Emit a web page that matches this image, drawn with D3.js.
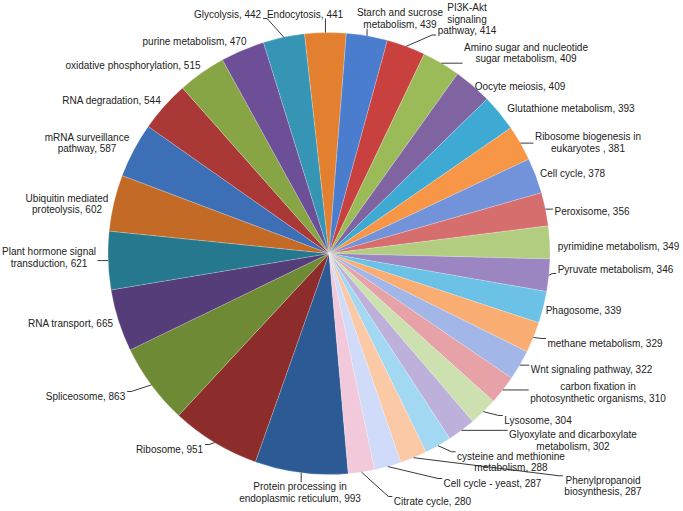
<!DOCTYPE html>
<html><head><meta charset="utf-8">
<script src="https://cdn.jsdelivr.net/npm/d3@7"></script>
<style>
body{margin:0;background:#fff;}
text{font-family:"Liberation Sans",Arial,Helvetica,sans-serif;font-size:10px;fill:#222;}
</style></head><body>
<svg id="chart" width="683" height="511"></svg>
<script>
// ---- data ----
const categories = [
  "Protein processing in endoplasmic reticulum","Ribosome","Spliceosome","RNA transport",
  "Plant hormone signal transduction","Ubiquitin mediated proteolysis","mRNA surveillance pathway",
  "RNA degradation","oxidative phosphorylation","purine metabolism","Glycolysis","Endocytosis",
  "Starch and sucrose metabolism","PI3K-Akt signaling pathway","Amino sugar and nucleotide sugar metabolism",
  "Oocyte meiosis","Glutathione metabolism","Ribosome biogenesis in eukaryotes ","Cell cycle","Peroxisome",
  "pyrimidine metabolism","Pyruvate metabolism","Phagosome","methane metabolism","Wnt signaling pathway",
  "carbon fixation in photosynthetic organisms","Lysosome","Glyoxylate and dicarboxylate metabolism",
  "cysteine and methionine metabolism","Phenylpropanoid biosynthesis","Cell cycle - yeast","Citrate cycle"
];
const values = [993,951,863,665,621,602,587,544,515,470,442,441,439,414,409,409,393,381,378,356,349,346,339,329,322,310,304,302,288,287,287,280];

// ---- style / layout ----
const colors = [
  "#2c5a94","#8c2d2b","#6f8a35","#553d7a","#26788e","#c36a26",
  "#3d6fb6","#a93836","#87a545","#6c4f97","#3694b4","#e3802f",
  "#4a7dce","#c8413f","#9bbb59","#8064a2","#3eaad4","#f79646",
  "#7293d9","#d66e6e","#b2cd80","#9b86c2","#6cc2e6","#f9ad72",
  "#a2b7e8","#e6a2a6","#cce0b0","#bdb1db","#a3d8f2","#fcc9a6",
  "#cfdbf8","#f2c9da"
];
// how each category name is broken into lines
const nameLines = [
  ["Protein processing in","endoplasmic reticulum"],["Ribosome"],["Spliceosome"],["RNA transport"],
  ["Plant hormone signal","transduction"],["Ubiquitin mediated","proteolysis"],["mRNA surveillance","pathway"],
  ["RNA degradation"],["oxidative phosphorylation"],["purine metabolism"],["Glycolysis"],["Endocytosis"],
  ["Starch and sucrose","metabolism"],["PI3K-Akt","signaling","pathway"],["Amino sugar and nucleotide","sugar metabolism"],
  ["Oocyte meiosis"],["Glutathione metabolism"],["Ribosome biogenesis in","eukaryotes "],["Cell cycle"],["Peroxisome"],
  ["pyrimidine metabolism"],["Pyruvate metabolism"],["Phagosome"],["methane metabolism"],["Wnt signaling pathway"],
  ["carbon fixation in","photosynthetic organisms"],["Lysosome"],["Glyoxylate and dicarboxylate","metabolism"],
  ["cysteine and methionine","metabolism"],["Phenylpropanoid","biosynthesis"],["Cell cycle - yeast"],["Citrate cycle"]
];
// label block centre, relative to pie centre (px)
const labelOffsets = [
  [-29,239],[-159.5,195.5],[-243.5,142.5],[-258.5,69.5],[-280,4],[-262,-49.5],[-242,-110.5],
  [-217.5,-153.5],[-196,-188.5],[-134.5,-212.5],[-101.5,-239.5],[-24,-239.5],[71,-235],[138,-234.5],
  [197,-200.5],[191,-167.5],[242,-145.5],[259,-111],[243.5,-80.5],[263,-42.5],[289.5,-7.5],[286.5,15.5],
  [254.5,56.5],[276,89.5],[262.5,115.5],[269,139],[209,166.5],[244,187],[182,208.5],[274,232.5],
  [163.5,229.5],[103.5,247.5]
];

const cx = 329, cy = 253.5, R = 221, lineH = 11.5;
const start = 175 * Math.PI / 180;

const data = categories.map((c, i) => ({name: c, value: values[i], i}));
const pie = d3.pie().sort(null).value(d => d.value).startAngle(start).endAngle(start + 2 * Math.PI);
const arcs = pie(data);
const arc = d3.arc().innerRadius(0).outerRadius(R);
const edge = d3.arc().innerRadius(R).outerRadius(R);

const svg = d3.select("#chart");
const g = svg.append("g").attr("transform", `translate(${cx},${cy})`);

g.selectAll("path.slice").data(arcs).join("path")
  .attr("class", "slice")
  .attr("d", arc)
  .attr("fill", d => colors[d.data.i])
  .attr("stroke", "#ffffff").attr("stroke-opacity", 0.35).attr("stroke-width", 0.6);

const leaders = g.append("g");
const labels = g.selectAll("text.lbl").data(arcs).join("text")
  .attr("class", "lbl")
  .attr("text-anchor", "middle")
  .each(function(d) {
    const i = d.data.i;
    const lines = nameLines[i].slice();
    lines[lines.length - 1] = lines[lines.length - 1] + ", " + d.data.value;
    const [ox, oy] = labelOffsets[i];
    const top = oy - (lines.length - 1) * lineH / 2;
    d3.select(this).selectAll("tspan").data(lines).join("tspan")
      .attr("x", ox).attr("y", (l, k) => top + k * lineH).attr("dy", "0.35em")
      .text(l => l);
  });

labels.each(function(d) {
  const b = this.getBBox();
  const p = edge.centroid(d);
  const pad = 1.5;
  const x0 = b.x - pad, x1 = b.x + b.width + pad, y0 = b.y + 1, y1 = b.y + b.height - 1;
  const ex = Math.max(x0, Math.min(x1, p[0]));
  const ey = Math.max(y0, Math.min(y1, p[1]));
  const dist = Math.hypot(p[0] - ex, p[1] - ey);
  if (dist < 7) return;
  let pts;
  if ((ex === x0 || ex === x1) && ey > y0 && ey < y1 || (ex === x0 || ex === x1)) {
    const s = ex === x0 ? -1 : 1;
    pts = [p, [ex + s * 4, ey], [ex, ey]];
  } else {
    pts = [p, [ex, ey]];
  }
  leaders.append("path")
    .attr("d", d3.line()(pts))
    .attr("fill", "none").attr("stroke", "#222").attr("stroke-width", 0.9);
});
</script></body></html>
